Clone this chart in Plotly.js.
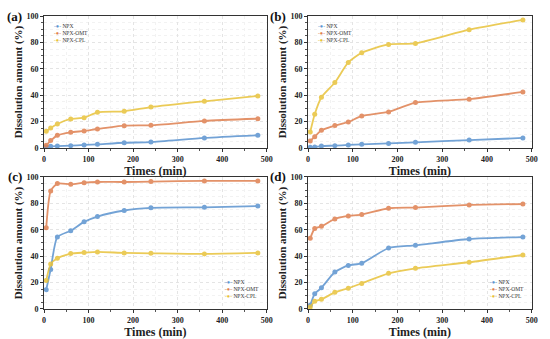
<!DOCTYPE html>
<html><head><meta charset="utf-8">
<script src="https://cdn.plot.ly/plotly-3.0.1.min.js"></script>
<style>html,body{margin:0;padding:0;background:#fff}</style>
</head><body><div id="chart" style="width:550px;height:339px"></div>
<script>
const times = [5, 15, 30, 60, 90, 120, 180, 240, 360, 480];
const seriesNames = ["NPX", "NPX-OMT", "NPX-CPL"];
const panelLabels = ["(a)", "(b)", "(c)", "(d)"];
const xTitle = "Times (min)";
const yTitle = "Dissolution amount (%)";
const xTicks = [0, 100, 200, 300, 400, 500];
const yTicks = [0, 20, 40, 60, 80, 100];

const a_NPX = [0.8, 1.3, 1.5, 1.8, 2.3, 2.8, 4.0, 4.5, 7.6, 9.6];
const a_OMT = [2.0, 5.6, 9.6, 11.9, 12.9, 14.4, 16.9, 17.2, 20.5, 22.2];
const a_CPL = [12.6, 15.2, 18.2, 22.0, 23.0, 27.0, 27.8, 31.0, 35.4, 39.4];

const b_NPX = [0.5, 0.8, 1.5, 1.8, 2.3, 2.8, 3.5, 4.3, 6.0, 7.6];
const b_OMT = [5.3, 8.6, 13.4, 17.0, 19.7, 24.3, 27.3, 34.4, 37.0, 42.5];
const b_CPL = [12.2, 25.6, 38.5, 49.6, 64.8, 72.2, 78.5, 79.2, 89.6, 97.0];

const c_NPX = [14.6, 30.0, 54.5, 59.3, 66.0, 70.0, 74.6, 76.6, 77.0, 78.0];
const c_OMT = [61.5, 89.4, 95.0, 94.5, 95.7, 96.2, 96.2, 96.5, 97.0, 97.0];
const c_CPL = [21.6, 34.0, 38.4, 42.0, 42.7, 43.2, 42.5, 42.2, 41.7, 42.5];

const d_NPX = [2.8, 11.6, 16.0, 28.0, 33.0, 34.6, 46.2, 48.2, 53.0, 54.5];
const d_OMT = [53.5, 61.0, 62.6, 68.2, 70.5, 71.5, 76.3, 76.8, 78.8, 79.5];
const d_CPL = [1.5, 5.8, 7.3, 12.6, 15.7, 19.4, 27.0, 30.8, 35.4, 40.9];

const panels = [[a_NPX, a_OMT, a_CPL],[b_NPX, b_OMT, b_CPL],[c_NPX, c_OMT, c_CPL],[d_NPX, d_OMT, d_CPL]];
const colors = ["#5b93cf", "#df7f4f", "#e8c23a"];

const traces = [];
panels.forEach((p, i) => {
  const ax = i === 0 ? "" : String(i + 1);
  p.forEach((ys, s) => {
    traces.push({
      x: times, y: ys, type: "scatter", mode: "lines+markers",
      name: seriesNames[s], xaxis: "x" + ax, yaxis: "y" + ax,
      showlegend: false,
      line: {color: colors[s], width: 1.8, shape: "spline", smoothing: 0.6},
      marker: {color: colors[s], size: 5, symbol: "circle"},
      opacity: 0.85
    });
  });
});

const xDomains = [[0.08, 0.485], [0.56, 0.967]];
const yDomains = [[0.5634, 0.9528], [0.0885, 0.478]];
const serif = "Liberation Serif, Times New Roman, serif";
const bold = v => "<b>" + v + "</b>";

const layout = {
  width: 550, height: 339,
  margin: {l: 0, r: 0, t: 0, b: 0},
  paper_bgcolor: "#fff", plot_bgcolor: "#fff",
  font: {family: serif, color: "#222"},
  showlegend: false,
  annotations: [],
};

const legendText = seriesNames.map((n, s) =>
  "<span style='color:" + colors[s] + "'>-●-</span> " + n).join("<br>");

for (let i = 0; i < 4; i++) {
  const ax = i === 0 ? "" : String(i + 1);
  const xd = xDomains[i % 2], yd = yDomains[Math.floor(i / 2)];
  layout["xaxis" + ax] = {
    domain: xd, anchor: "y" + ax, range: [0, 500],
    tickvals: xTicks, ticktext: xTicks.map(bold),
    showline: true, mirror: true, linecolor: "#333", linewidth: 1,
    ticks: "outside", ticklen: 3, tickcolor: "#333",
    minor: {dtick: 50, ticks: "outside", ticklen: 2, tickcolor: "#555", showgrid: true, gridcolor: "#f2f2f2"},
    showgrid: true, gridcolor: "#e4e4e4", griddash: "dot", zeroline: false,
    tickfont: {family: serif, size: 8, color: "#222"},
    title: {text: bold(xTitle), font: {family: serif, size: 12, color: "#222"}, standoff: 2}
  };
  layout["yaxis" + ax] = {
    domain: yd, anchor: "x" + ax, range: [0, 100],
    tickvals: yTicks, ticktext: yTicks.map(bold),
    showline: true, mirror: true, linecolor: "#333", linewidth: 1,
    ticks: "outside", ticklen: 3, tickcolor: "#333",
    minor: {dtick: 5, ticks: "outside", ticklen: 2, tickcolor: "#555", showgrid: true, gridcolor: "#f2f2f2"},
    showgrid: true, gridcolor: "#e4e4e4", griddash: "dot", zeroline: false,
    tickfont: {family: serif, size: 8, color: "#222"},
    title: {text: bold(yTitle), font: {family: serif, size: 11, color: "#222"}, standoff: 1}
  };
  const bottom = i >= 2;
  layout.annotations.push({
    text: legendText, xref: "paper", yref: "paper", align: "left",
    x: bottom ? xd[1] - 0.01 : xd[0] + 0.014,
    y: bottom ? yd[0] + 0.025 : yd[1] - 0.014,
    xanchor: bottom ? "right" : "left", yanchor: bottom ? "bottom" : "top",
    showarrow: false, font: {family: serif, size: 5.5, color: "#333"}
  });
  layout.annotations.push({
    text: bold(panelLabels[i]), xref: "paper", yref: "paper",
    x: xd[0] - 0.036, y: yd[1], xanchor: "right", yanchor: "middle",
    showarrow: false, font: {family: serif, size: 13, color: "#111"}
  });
}

Plotly.newPlot("chart", traces, layout, {displayModeBar: false, staticPlot: true});
</script></body></html>
